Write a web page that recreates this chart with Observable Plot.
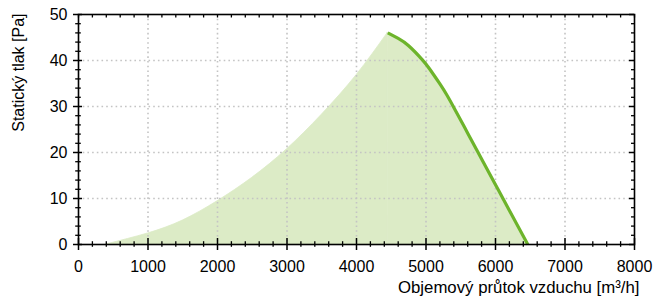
<!DOCTYPE html>
<html><head><meta charset="utf-8">
<script src="https://cdn.jsdelivr.net/npm/d3@7"></script>
<script src="https://cdn.jsdelivr.net/npm/@observablehq/plot@0.6"></script>
<style>body{margin:0;background:#fff} svg{display:block}</style>
</head><body><div id="chart"></div>
<script>
const xTicks = [0, 1000, 2000, 3000, 4000, 5000, 6000, 7000, 8000];
const yTicks = [0, 10, 20, 30, 40, 50];
const xLabel = "Objemový průtok vzduchu [m³/h]";
const yLabel = "Statický tlak [Pa]";
// system (working range) boundary
const systemFlow = [400, 1000, 1500, 2000, 2500, 3000, 3500, 4000, 4450];
const systemPressure = [0, 2.4, 5.2, 9.4, 14.5, 20.7, 28.2, 36.8, 46];
// fan characteristic curve
const fanFlow = [4450, 4600, 4750, 4945, 5050, 5200, 5300, 5400, 5600, 5800, 6000, 6200, 6465];
const fanPressure = [46, 44.8, 43.2, 40.2, 38.2, 34.9, 32.5, 29.8, 24.2, 18.6, 13, 7.4, 0];

const system = systemFlow.map((x, i) => ({x, y: systemPressure[i]}));
const fan = fanFlow.map((x, i) => ({x, y: fanPressure[i]}));

const W = 658, H = 296, mt = 14, mb = 52, ml = 78, mr = 24;
const fh = H - mt - mb;
const minorX = d3.range(0, 8001, 200).filter(v => !xTicks.includes(v));
const minorY = d3.range(0, 51, 2).filter(v => !yTicks.includes(v));
const font = "Liberation Sans, Arial, sans-serif";
const fill = "#dcebc6", green = "#6db42b";

const chart = Plot.plot({
  width: W, height: H,
  marginTop: mt, marginBottom: mb, marginLeft: ml, marginRight: mr,
  style: {fontFamily: font, fontSize: "16px", background: "#fff"},
  x: {domain: [0, 8000], axis: null},
  y: {domain: [0, 50], axis: null},
  marks: [
    Plot.areaY(system, {x: "x", y: "y", fill, stroke: fill, strokeWidth: 0.8, curve: "natural"}),
    Plot.areaY(fan, {x: "x", y: "y", fill, stroke: fill, strokeWidth: 0.8, curve: "natural"}),
    Plot.ruleX(xTicks.slice(1, -1), {x: d => d, stroke: "#c4c4c4", strokeWidth: 1.6, strokeDasharray: "1.6,3.1"}),
    Plot.ruleY(yTicks.slice(1, -1), {y: d => d, stroke: "#c4c4c4", strokeWidth: 1.6, strokeDasharray: "1.6,3.1"}),
    Plot.line(fan, {x: "x", y: "y", stroke: green, strokeWidth: 3.2, strokeLinecap: "butt", curve: "natural"}),
    Plot.frame({stroke: "#000", strokeWidth: 1.6}),
    // bottom ticks (crossing)
    Plot.tickX(xTicks, {x: d => d, insetTop: fh - 6, insetBottom: -6, stroke: "#000", strokeWidth: 1.5}),
    Plot.tickX(minorX, {x: d => d, insetTop: fh - 2.8, insetBottom: -2.8, stroke: "#000", strokeWidth: 1.3}),
    // top ticks (inward)
    Plot.tickX(xTicks.concat(minorX), {x: d => d, insetBottom: fh - 3.5, stroke: "#000", strokeWidth: 1.3}),
    // left ticks (crossing)
    Plot.tickY(yTicks, {y: d => d, insetLeft: -5, insetRight: W - ml - mr - 4, stroke: "#000", strokeWidth: 1.5}),
    Plot.tickY(minorY, {y: d => d, insetLeft: -2.8, insetRight: W - ml - mr - 2.8, stroke: "#000", strokeWidth: 1.3}),
    // right ticks (inward)
    Plot.tickY(yTicks, {y: d => d, insetLeft: W - ml - mr - 5, stroke: "#000", strokeWidth: 1.5}),
    Plot.tickY(minorY, {y: d => d, insetLeft: W - ml - mr - 3, stroke: "#000", strokeWidth: 1.3}),
    // tick labels
    Plot.text(xTicks, {x: d => d, text: d => String(d), frameAnchor: "bottom", lineAnchor: "bottom", dy: 27, fill: "#000"}),
    Plot.text(yTicks, {y: d => d, text: d => String(d), frameAnchor: "left", textAnchor: "end", lineAnchor: "middle", dx: -11, fill: "#000"}),
    // axis titles
    Plot.text([yLabel], {text: d => d, frameAnchor: "top-left", textAnchor: "end", lineAnchor: "middle", rotate: -90, dx: -60, dy: -1, fill: "#000"}),
    Plot.text([xLabel], {text: d => d, frameAnchor: "bottom-right", textAnchor: "end", lineAnchor: "bottom", dx: 5, dy: 48, fontSize: 16.8, fill: "#000"})
  ]
});
document.getElementById("chart").appendChild(chart);
</script>
</body></html>
